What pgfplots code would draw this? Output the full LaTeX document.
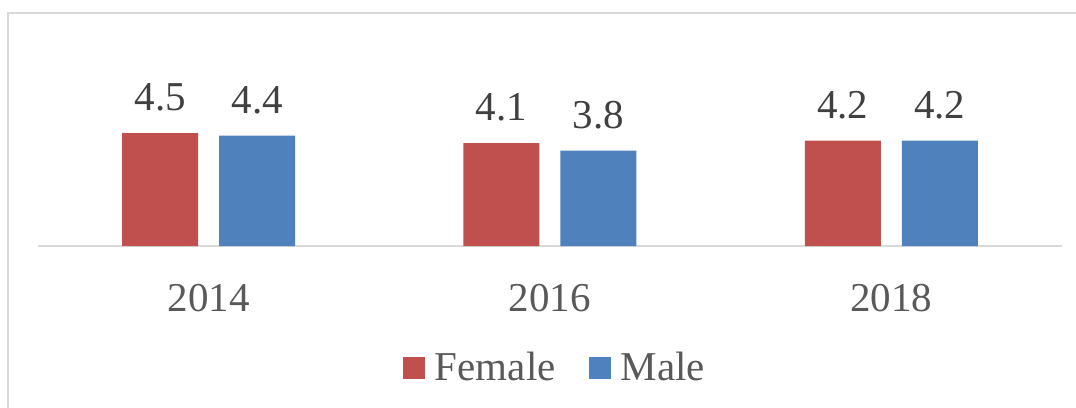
\documentclass[border=0pt]{standalone}
\usepackage{fontspec}
\setmainfont{Liberation Serif}
\usepackage{pgfplots}
\pgfplotsset{compat=1.18}
\definecolor{fem}{HTML}{C0504D}
\definecolor{mal}{HTML}{4F81BD}
\definecolor{framegray}{HTML}{D9D9D9}
\definecolor{valtext}{HTML}{404040}
\definecolor{ticktext}{HTML}{595959}
\newcommand{\bigfont}{\fontsize{41}{49}\selectfont}
\begin{document}
\begin{tikzpicture}
\draw[framegray, line width=1.5pt] (8pt,-20pt) -- (8pt,394pt) -- (1100pt,394pt);
\begin{axis}[
  at={(38pt,161pt)}, anchor=south west,
  scale only axis, width=1024pt, height=200.8pt,
  xmin=-0.5, xmax=2.5, ymin=0, ymax=8,
  axis y line=none, axis x line*=bottom,
  axis line style={draw=framegray, line width=1.5pt},
  xtick={0,1,2}, xticklabels={2014,2016,2018},
  major tick length=0pt,
  xticklabel style={font=\bigfont, text=ticktext, anchor=base, yshift=-65pt, inner sep=0pt},
  ybar, bar width=76pt,
  point meta=explicit symbolic,
  nodes near coords,
  nodes near coords style={font=\bigfont, text=valtext, anchor=base, yshift=22.5pt, inner sep=0pt},
  legend columns=2,
  legend style={draw=none, fill=none, inner sep=0pt, outer sep=0pt,
    at={(0.3564,-0.6758)}, anchor=south west,
    font=\bigfont, text=ticktext,
    nodes={inner sep=0pt},
    /tikz/every odd column/.append style={column sep=10pt},
    /tikz/every even column/.append style={column sep=33pt}},
  legend image code/.code={\fill[#1, draw=none] (0pt,-12pt) rectangle (22pt,10pt);},
]
\addplot[fill=fem, draw=none, bar shift=-48.5pt] coordinates {(0,4.5) [4.5] (1,4.1) [4.1] (2,4.2) [4.2]};
\addplot[fill=mal, draw=none, bar shift=48.5pt] coordinates {(0,4.4) [4.4] (1,3.8) [3.8] (2,4.2) [4.2]};
\legend{Female, Male}
\end{axis}
\pgfresetboundingbox
\useasboundingbox (0,0) rectangle (1076pt,407pt);
\end{tikzpicture}
\end{document}
